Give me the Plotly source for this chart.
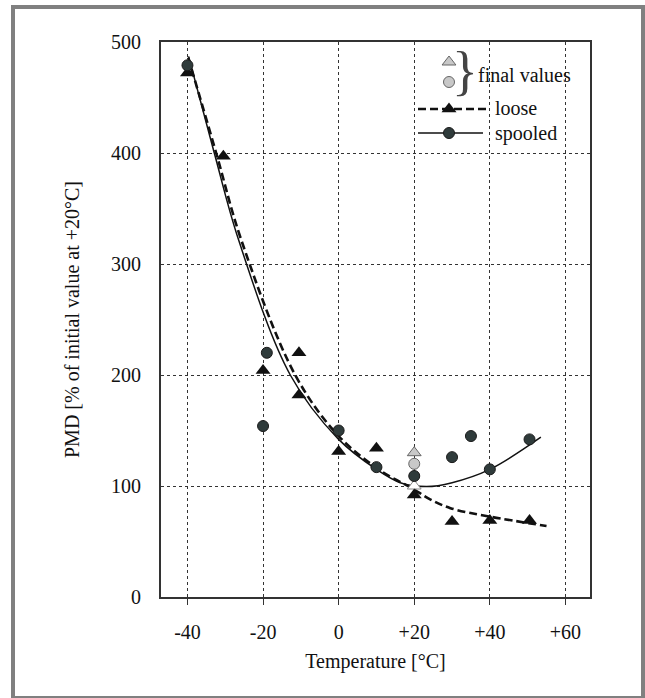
import plotly.graph_objects as go

# ---------------- data ----------------
loose_T = [-40, -30.5, -20, -10.5, -10.5, 0, 10, 20, 30, 40, 50.5]
loose_P = [472, 397, 204, 220, 182, 131, 134, 92, 68, 69, 69]

spooled_T = [-40, -20, -19, 0, 10, 20, 30, 35, 40, 50.5]
spooled_P = [479, 154, 220, 150, 117, 109, 126, 145, 115, 142]

final_tri_T = [20]
final_tri_P = [130]
final_circ_T = [20]
final_circ_P = [120]
initial_T = [20]
initial_P = [100]

fit_loose_T = [-39.8, -32.4, -25.8, -11.5, 0, 11, 19.4, 24.2, 29.6, 39.9, 55]
fit_loose_P = [486, 400, 322, 200, 145, 114, 98, 88, 80, 72.5, 64]

fit_spooled_T = [-39.7, -32.9, -26.5, -12.8, 0, 10, 16.3, 23.3, 30, 40, 53.5]
fit_spooled_P = [487, 400, 322, 200, 142, 115, 103, 99.5, 103, 115, 144]

x_ticks = [-40, -20, 0, 20, 40, 60]
x_labels = ["-40", "-20", "0", "+20", "+40", "+60"]
y_ticks = [0, 100, 200, 300, 400, 500]

# ---------------- layout constants ----------------
W, H = 645, 698
ML, MR, MT, MB = 161, 55, 42, 101
FONT = "Liberation Serif"
DARK = "#333333"
CIRC = "#2f3b3b"
LIGHT = "#c8c8c8"


def px(x):
    return (x - ML) / (W - ML - MR)


def py(y):
    return (H - MB - y) / (H - MT - MB)


fig = go.Figure()

# fitted curves
fig.add_trace(go.Scatter(x=fit_loose_T, y=fit_loose_P, mode="lines",
                         line=dict(color="#111111", width=2.6, dash="8px,4px", shape="spline"),
                         hoverinfo="skip", showlegend=False))
fig.add_trace(go.Scatter(x=fit_spooled_T, y=fit_spooled_P, mode="lines",
                         line=dict(color="#111111", width=1.5, shape="spline"),
                         hoverinfo="skip", showlegend=False))

# initial reference point
fig.add_trace(go.Scatter(x=initial_T, y=initial_P, mode="markers",
                         marker=dict(symbol="triangle-up", size=12, color="white",
                                     line=dict(color="#888888", width=1)),
                         showlegend=False))
# final values
fig.add_trace(go.Scatter(x=final_tri_T, y=final_tri_P, mode="markers",
                         marker=dict(symbol="triangle-up", size=12, color=LIGHT,
                                     line=dict(color="#666666", width=1)),
                         showlegend=False))
fig.add_trace(go.Scatter(x=final_circ_T, y=final_circ_P, mode="markers",
                         marker=dict(symbol="circle", size=11, color=LIGHT,
                                     line=dict(color="#666666", width=1)),
                         showlegend=False))

# measured points
fig.add_trace(go.Scatter(x=loose_T, y=loose_P, mode="markers", name="loose",
                         marker=dict(symbol="triangle-up", size=13, color="#111111",
                                     line=dict(width=0)),
                         showlegend=False))
fig.add_trace(go.Scatter(x=spooled_T, y=spooled_P, mode="markers", name="spooled",
                         marker=dict(symbol="circle", size=11, color=CIRC,
                                     line=dict(color="#1a1a1a", width=1)),
                         showlegend=False))

# ---------------- legend (manual) ----------------
leg_x = px(449)
fig.add_trace(go.Scatter(x=[leg_x], y=[py(62)], xaxis="x2", yaxis="y2", mode="markers",
                         marker=dict(symbol="triangle-up", size=12, color=LIGHT,
                                     line=dict(color="#666666", width=1)),
                         hoverinfo="skip", showlegend=False))
fig.add_trace(go.Scatter(x=[leg_x], y=[py(82)], xaxis="x2", yaxis="y2", mode="markers",
                         marker=dict(symbol="circle", size=11, color=LIGHT,
                                     line=dict(color="#666666", width=1)),
                         hoverinfo="skip", showlegend=False))
fig.add_trace(go.Scatter(x=[leg_x], y=[py(109)], xaxis="x2", yaxis="y2", mode="markers",
                         marker=dict(symbol="triangle-up", size=13, color="#111111"),
                         hoverinfo="skip", showlegend=False))
fig.add_trace(go.Scatter(x=[leg_x], y=[py(133)], xaxis="x2", yaxis="y2", mode="markers",
                         marker=dict(symbol="circle", size=11, color=CIRC,
                                     line=dict(color="#1a1a1a", width=1)),
                         hoverinfo="skip", showlegend=False))

shapes = [
    dict(type="line", xref="paper", yref="paper", x0=px(418), x1=px(486), y0=py(109), y1=py(109),
         line=dict(color="#111111", width=2.6, dash="8px,4px"), layer="below"),
    dict(type="line", xref="paper", yref="paper", x0=px(418), x1=px(483), y0=py(133), y1=py(133),
         line=dict(color="#111111", width=1.5), layer="below"),
    # outer gray frame
    dict(type="rect", xref="paper", yref="paper", x0=px(13), x1=px(643), y0=py(7), y1=py(698),
         line=dict(color="#808080", width=4), fillcolor="rgba(0,0,0,0)"),
]

annotations = [
    dict(xref="paper", yref="paper", x=px(465), y=py(71), text="}", showarrow=False,
         font=dict(family=FONT, size=54, color="#444444"), xanchor="center", yanchor="middle"),
    dict(xref="paper", yref="paper", x=px(476), y=py(75), text="final values", showarrow=False,
         font=dict(family=FONT, size=20, color="#111111"), xanchor="left", yanchor="middle"),
    dict(xref="paper", yref="paper", x=px(493), y=py(108), text="loose", showarrow=False,
         font=dict(family=FONT, size=20, color="#111111"), xanchor="left", yanchor="middle"),
    dict(xref="paper", yref="paper", x=px(493), y=py(133), text="spooled", showarrow=False,
         font=dict(family=FONT, size=20, color="#111111"), xanchor="left", yanchor="middle"),
]

axis_common = dict(showline=True, linecolor=DARK, linewidth=2, mirror=True,
                   showgrid=True, gridcolor=DARK, gridwidth=1, griddash="3px,3px",
                   zeroline=False, tickfont=dict(family=FONT, size=20, color="#111111"))

fig.update_layout(
    width=W, height=H,
    margin=dict(l=ML, r=MR, t=MT, b=MB),
    paper_bgcolor="white", plot_bgcolor="white",
    font=dict(family=FONT, color="#111111"),
    showlegend=False,
    xaxis=dict(range=[-47, 66.5], tickvals=x_ticks, ticktext=x_labels,
               ticks="outside", ticklen=6, tickcolor=DARK, tickwidth=1,
               ticklabelstandoff=10,
               title=dict(text="Temperature [°C]", font=dict(family=FONT, size=20),
                          standoff=12),
               **axis_common),
    yaxis=dict(range=[0, 500], tickvals=y_ticks, ticks="", ticklabelstandoff=14,
               title=dict(text="PMD [% of initial value at +20°C]", font=dict(family=FONT, size=20),
                          standoff=26),
               **axis_common),
    xaxis2=dict(overlaying="x", range=[0, 1], visible=False, fixedrange=True),
    yaxis2=dict(overlaying="y", range=[0, 1], visible=False, fixedrange=True),
    shapes=shapes,
    annotations=annotations,
)

fig.write_html("out.html")
